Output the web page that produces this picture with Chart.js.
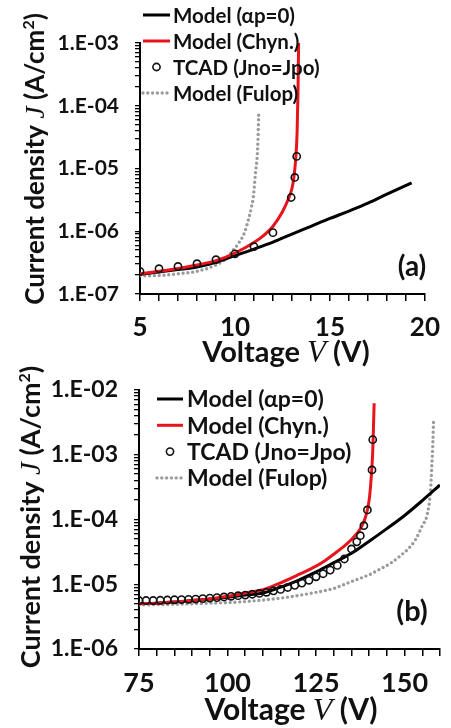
<!DOCTYPE html>
<html>
<head>
<meta charset="utf-8">
<script src="https://cdn.jsdelivr.net/npm/chart.js@4.4.1/dist/chart.umd.min.js"></script>
<style>
  html, body { margin: 0; padding: 0; background: #fff; }
  #wrap { position: relative; width: 451px; height: 728px; overflow: hidden; }
  canvas { position: absolute; left: 0; }
  #chartA { top: 0; }
  #chartB { top: 360px; }
</style>
</head>
<body>
<div id="wrap">
  <canvas id="chartA" width="451" height="376"></canvas>
  <canvas id="chartB" width="451" height="368"></canvas>
</div>
<script>
// ---- panel (a) ----
const aIdealV = [5, 6, 7, 8, 9, 10, 11, 12, 13, 14, 15, 16, 17, 18, 19.3];
const aIdealJ = [2.07e-7, 2.25e-7, 2.45e-7, 2.7e-7, 3.2e-7, 4.1e-7, 5.2e-7, 6.7e-7, 9.0e-7, 1.2e-6, 1.6e-6, 2.1e-6, 2.8e-6, 3.9e-6, 5.9e-6];
const aChynV = [5, 6, 7, 8, 9, 10, 11, 11.5, 12, 12.5, 12.8, 13.0, 13.1, 13.18, 13.27, 13.32, 13.35];
const aChynJ = [2.1e-7, 2.3e-7, 2.55e-7, 2.9e-7, 3.4e-7, 4.5e-7, 6.6e-7, 8.5e-7, 1.2e-6, 2.05e-6, 3.2e-6, 4.8e-6, 7.2e-6, 1.23e-5, 3.7e-5, 1.8e-4, 1e-3];
const aTcadV = [5, 6, 7, 8, 9, 10, 11, 12, 12.96, 13.15, 13.25];
const aTcadJ = [2.3e-7, 2.53e-7, 2.75e-7, 3.04e-7, 3.52e-7, 4.37e-7, 5.7e-7, 9.5e-7, 3.45e-6, 7.2e-6, 1.56e-5];
const aFulopV = [5, 6, 7, 8, 9, 9.5, 9.86, 10.2, 10.5, 10.7, 10.85, 10.97, 11.08, 11.19, 11.25];
const aFulopJ = [1.95e-7, 1.97e-7, 2.1e-7, 2.3e-7, 2.9e-7, 3.6e-7, 4.8e-7, 6.5e-7, 9.5e-7, 1.5e-6, 2.3e-6, 3.6e-6, 8.5e-6, 2.0e-5, 7.2e-5];

// ---- panel (b) ----
const bIdealV = [75, 80, 85, 90, 95, 100, 105, 110, 115, 120, 125, 130, 135, 140, 145, 150, 155, 160];
const bIdealJ = [5.0e-6, 5.1e-6, 5.3e-6, 5.6e-6, 5.9e-6, 6.3e-6, 6.8e-6, 7.3e-6, 9.0e-6, 1.15e-5, 1.55e-5, 2.15e-5, 3.0e-5, 4.6e-5, 7.2e-5, 1.15e-4, 1.95e-4, 3.4e-4];
const bChynV = [75, 80, 85, 90, 95, 100, 105, 110, 115, 120, 125, 127.5, 130, 132.5, 135, 137.5, 139, 140, 140.5, 141, 141.2, 141.4];
const bChynJ = [5.0e-6, 5.1e-6, 5.3e-6, 5.6e-6, 5.9e-6, 6.5e-6, 7.3e-6, 8.2e-6, 1.05e-5, 1.4e-5, 1.9e-5, 2.3e-5, 2.9e-5, 3.7e-5, 4.9e-5, 7.2e-5, 1.1e-4, 2.0e-4, 3.9e-4, 1.1e-3, 2.5e-3, 6.2e-3];
const bTcadV = [75, 77, 79, 81, 83, 85, 87, 89, 91, 93, 95, 97, 99, 101, 103, 105, 107, 109, 111, 113, 115, 117, 119, 121, 123, 125, 127, 129, 131, 133, 135, 136.5, 137.5, 138.5, 139.5, 140.8, 141.0];
const bTcadJ = [5.6e-6, 5.6e-6, 5.6e-6, 5.65e-6, 5.7e-6, 5.75e-6, 5.8e-6, 5.85e-6, 5.9e-6, 6.0e-6, 6.1e-6, 6.2e-6, 6.35e-6, 6.5e-6, 6.65e-6, 6.8e-6, 7.0e-6, 7.2e-6, 7.5e-6, 7.9e-6, 8.3e-6, 8.9e-6, 9.6e-6, 1.04e-5, 1.15e-5, 1.3e-5, 1.45e-5, 1.65e-5, 1.95e-5, 2.45e-5, 3.5e-5, 4.5e-5, 5.6e-5, 8.0e-5, 1.4e-4, 5.8e-4, 1.7e-3];
const bFulopV = [75, 85, 95, 100, 105, 110, 115, 120, 125, 130, 135, 140, 143, 146, 149, 151, 153, 155, 156.4, 157.3, 157.7, 158.0, 158.2];
const bFulopJ = [4.8e-6, 4.9e-6, 5.1e-6, 5.2e-6, 5.4e-6, 5.7e-6, 6.1e-6, 6.7e-6, 7.5e-6, 8.6e-6, 1.1e-5, 1.4e-5, 1.7e-5, 2.1e-5, 2.8e-5, 3.5e-5, 4.8e-5, 8.0e-5, 1.2e-4, 2.7e-4, 6.9e-4, 1.6e-3, 3.6e-3];

const seriesLabels = ['Model (\u03b1p=0)', 'Model (Chyn.)', 'TCAD (Jno=Jpo)', 'Model (Fulop)'];

const SANS = 'Lato, "Open Sans", sans-serif';
const SERIF = '"Liberation Serif", "DejaVu Serif", serif';
const INK = '#111';

function pairs(xs, ys) {
    return xs.map((x, i) => ({ x: x, y: ys[i] }));
}

function isDecade(v) {
    const l = Math.log10(v);
    return Math.abs(l - Math.round(l)) < 1e-6;
}

function sciLabel(v) {
    const e = Math.round(Math.log10(v));
    const s = String(Math.abs(e)).padStart(2, '0');
    return '1.E' + (e < 0 ? '-' : '+') + s;
}

// draws a run of text pieces with different fonts, centred on (x, y)
function drawRich(ctx, parts, x, y, angle) {
    ctx.save();
    ctx.translate(x, y);
    ctx.rotate(angle);
    ctx.textAlign = 'left';
    ctx.textBaseline = 'alphabetic';
    let total = 0;
    parts.forEach(p => { ctx.font = p.font; total += ctx.measureText(p.text).width; });
    let cx = -total / 2;
    parts.forEach(p => {
        ctx.font = p.font;
        ctx.fillText(p.text, cx, p.dy || 0);
        cx += ctx.measureText(p.text).width;
    });
    ctx.restore();
}

const figureText = {
    id: 'figureText',
    afterDraw(chart, args, o) {
        const ctx = chart.ctx;
        ctx.save();
        ctx.fillStyle = INK;

        // legend
        chart.data.datasets.forEach((ds, i) => {
            const y = o.legendTop + i * o.legendGap;
            ctx.save();
            ctx.beginPath();
            ctx.lineWidth = ds.borderWidth;
            ctx.strokeStyle = ds.borderColor;
            if (ds.showLine === false) {
                ctx.arc((o.legendX0 + o.legendX1) / 2, y, ds.pointRadius, 0, Math.PI * 2);
            } else {
                ctx.lineCap = ds.borderCapStyle || 'butt';
                ctx.setLineDash(ds.borderDash || []);
                ctx.moveTo(o.legendX0, y);
                ctx.lineTo(o.legendX1, y);
            }
            ctx.stroke();
            ctx.restore();
            ctx.font = o.legendFont;
            ctx.textAlign = 'left';
            ctx.textBaseline = 'middle';
            ctx.fillText(ds.label, o.legendX1 + o.legendPad, y + 1);
        });

        // axis titles
        const bold = 'bold ' + o.titleSize + 'px ' + SANS;
        const ital = 'italic ' + (o.titleSize + 2) + 'px ' + SERIF;
        const sup = 'bold ' + Math.round(o.titleSize * 0.6) + 'px ' + SANS;
        drawRich(ctx, [
            { text: 'Voltage ', font: bold },
            { text: 'V', font: ital },
            { text: ' (V)', font: bold }
        ], o.xTitleX, o.xTitleY, 0);
        const yBold = 'bold ' + o.yTitleSize + 'px ' + SANS;
        const yItal = 'italic ' + (o.yTitleSize + 2) + 'px ' + SERIF;
        const ySup = 'bold ' + Math.round(o.yTitleSize * 0.6) + 'px ' + SANS;
        drawRich(ctx, [
            { text: 'Current density ', font: yBold },
            { text: 'J', font: yItal },
            { text: ' (A/cm', font: yBold },
            { text: '2', font: ySup, dy: -o.yTitleSize * 0.38 },
            { text: ')', font: yBold }
        ], o.yTitleX, o.yTitleY, -Math.PI / 2);

        // panel tag
        ctx.font = 'bold ' + o.tagSize + 'px ' + SANS;
        ctx.textAlign = 'center';
        ctx.textBaseline = 'middle';
        ctx.fillText(o.tag, o.tagX, o.tagY);
        ctx.restore();
    }
};

function buildChart(id, p) {
    const tickFont = (size) => ({ family: SANS, size: size, weight: 'bold' });
    return new Chart(document.getElementById(id), {
        type: 'line',
        data: {
            datasets: [
                { label: seriesLabels[0], data: pairs(p.idealV, p.idealJ), borderColor: '#000', borderWidth: 3,
                  pointRadius: 0, cubicInterpolationMode: 'monotone', order: 2 },
                { label: seriesLabels[1], data: pairs(p.chynV, p.chynJ), borderColor: '#e8141b', borderWidth: 3,
                  pointRadius: 0, cubicInterpolationMode: 'monotone', order: 1 },
                { label: seriesLabels[2], data: pairs(p.tcadV, p.tcadJ), showLine: false, pointRadius: 3.6,
                  borderWidth: 1.6, borderColor: '#111', backgroundColor: 'rgba(0,0,0,0)', order: 0 },
                { label: seriesLabels[3], data: pairs(p.fulopV, p.fulopJ), borderColor: '#9b9b9b', borderWidth: 3.4,
                  borderDash: [0, 4.8], borderCapStyle: 'round', pointRadius: 0,
                  cubicInterpolationMode: 'monotone', order: 3 }
            ]
        },
        options: {
            responsive: false,
            animation: false,
            events: [],
            layout: { padding: { top: p.padTop, right: p.padRight, left: 0, bottom: 0 } },
            plugins: {
                legend: { display: false },
                tooltip: { enabled: false },
                figureText: p.text
            },
            scales: {
                x: {
                    type: 'linear',
                    min: p.xMin,
                    max: p.xMax,
                    afterFit: (s) => { s.height = p.xAxisH; },
                    ticks: {
                        stepSize: p.xStep,
                        autoSkip: false,
                        maxRotation: 0,
                        color: INK,
                        padding: p.xTickPad,
                        font: tickFont(p.xTickSize),
                        callback: (v) => ((v - p.xMin) % p.xLabelEvery === 0 ? String(v) : '')
                    },
                    grid: { drawOnChartArea: false, tickLength: 7, color: '#000', lineWidth: 1.5 },
                    border: { color: '#000', width: 2 }
                },
                y: {
                    type: 'logarithmic',
                    min: p.yMin,
                    max: p.yMax,
                    afterFit: (s) => { s.width = p.yAxisW; },
                    afterBuildTicks: (s) => {
                        s.ticks = s.ticks.filter(t => {
                            const m = t.value / Math.pow(10, Math.floor(Math.log10(t.value) + 1e-9));
                            return Math.abs(m - Math.round(m)) < 1e-6;
                        });
                    },
                    ticks: {
                        autoSkip: false,
                        color: INK,
                        padding: p.yTickPad,
                        font: tickFont(p.yTickSize),
                        callback: (v) => (isDecade(v) ? sciLabel(v) : '')
                    },
                    grid: { drawOnChartArea: false, tickLength: 5, color: '#000', lineWidth: 1.3 },
                    border: { color: '#000', width: 2 }
                }
            }
        },
        plugins: [figureText]
    });
}

buildChart('chartA', {
    idealV: aIdealV, idealJ: aIdealJ, chynV: aChynV, chynJ: aChynJ,
    tcadV: aTcadV, tcadJ: aTcadJ, fulopV: aFulopV, fulopJ: aFulopJ,
    xMin: 5, xMax: 20, xStep: 1, xLabelEvery: 5,
    yMin: 1e-7, yMax: 1e-3,
    padTop: 43, padRight: 18, yAxisW: 140, xAxisH: 82,
    xTickSize: 26, yTickSize: 21, xTickPad: 11, yTickPad: 16,
    text: {
        legendTop: 15, legendGap: 26, legendX0: 143, legendX1: 170, legendPad: 3,
        legendFont: 'bold 20.5px ' + SANS,
        titleSize: 29, xTitleX: 286, xTitleY: 362,
        yTitleSize: 26, yTitleX: 44, yTitleY: 159,
        tag: '(a)', tagSize: 28, tagX: 412, tagY: 267
    }
});

buildChart('chartB', {
    idealV: bIdealV, idealJ: bIdealJ, chynV: bChynV, chynJ: bChynJ,
    tcadV: bTcadV, tcadJ: bTcadJ, fulopV: bFulopV, fulopJ: bFulopJ,
    xMin: 75, xMax: 160, xStep: 5, xLabelEvery: 25,
    yMin: 1e-6, yMax: 1e-2,
    padTop: 28, padRight: 8, yAxisW: 139, xAxisH: 79,
    xTickSize: 27, yTickSize: 23, xTickPad: 11, yTickPad: 16,
    text: {
        legendTop: 39, legendGap: 26.3, legendX0: 157, legendX1: 183, legendPad: 4,
        legendFont: 'bold 23px ' + SANS,
        titleSize: 30, xTitleX: 291, xTitleY: 360,
        yTitleSize: 27, yTitleX: 40, yTitleY: 157,
        tag: '(b)', tagSize: 29, tagX: 412, tagY: 252
    }
});
</script>
</body>
</html>
